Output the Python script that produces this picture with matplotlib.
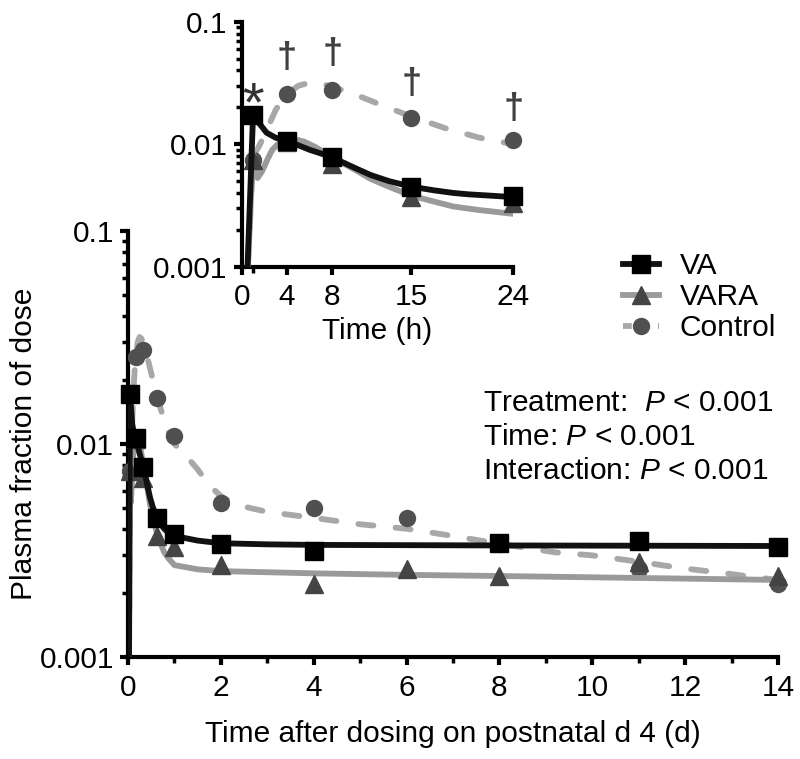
import matplotlib
matplotlib.use("Agg")
import matplotlib.pyplot as plt
import numpy as np
from matplotlib.ticker import LogLocator, FixedLocator, NullFormatter, FixedFormatter, MultipleLocator
from matplotlib.lines import Line2D

plt.rcParams['font.family'] = ['Liberation Sans', 'DejaVu Sans']
plt.rcParams['mathtext.fontset'] = 'custom'
plt.rcParams['mathtext.rm'] = 'Liberation Sans'
plt.rcParams['mathtext.it'] = 'Liberation Sans:italic'

FS = 21.5

# ---------------- data (time in days) ----------------
va_t = [1/24, 4/24, 8/24, 15/24, 1, 2, 4, 8, 11, 14]
va_y = [0.0172, 0.0107, 0.0078, 0.0045, 0.0038, 0.0034, 0.00315, 0.00344, 0.0035, 0.00328]

vara_t = [1/24, 4/24, 8/24, 15/24, 1, 2, 4, 6, 8, 11, 14]
vara_y = [0.0075, 0.0105, 0.0069, 0.0037, 0.0033, 0.0027, 0.0022, 0.0026, 0.0024, 0.0028, 0.0024]

ctrl_t = [1/24, 4/24, 8/24, 15/24, 1, 2, 4, 6, 8, 11, 14]
ctrl_y = [0.0075, 0.0256, 0.0277, 0.0165, 0.0109, 0.0053, 0.0050, 0.0045, 0.0034, 0.0026, 0.0022]

# fitted curves: first day in hours, then in days
va_fit_h = [0.4, 1, 2.2, 3, 4, 5, 6, 7, 8, 10, 11.4, 13, 15, 17, 18.7, 20, 22, 24]
va_fit_hy = [0.0005, 0.0172, 0.0124, 0.0113, 0.0106, 0.0098, 0.0090, 0.0084, 0.0078, 0.0064,
             0.0056, 0.0050, 0.0045, 0.0042, 0.0040, 0.0039, 0.0038, 0.0037]
va_fit_d = [1.5, 2, 3, 4, 6, 8, 11, 14]
va_fit_dy = [0.00352, 0.00342, 0.00338, 0.00336, 0.00335, 0.00334, 0.00333, 0.00332]

vara_fit_h = [0.4, 1, 1.4, 1.8, 2.3, 2.7, 3.2, 4, 5, 5.5, 6.5, 8, 10, 11.4, 13, 15, 17, 18.7, 21, 24]
vara_fit_hy = [0.0005, 0.0085, 0.0053, 0.0060, 0.0076, 0.0090, 0.0100, 0.0108, 0.0108, 0.0105,
               0.0095, 0.0078, 0.0062, 0.0052, 0.0045, 0.0038, 0.0034, 0.0031, 0.0029, 0.0027]
vara_fit_d = [1.5, 2, 3, 4, 6, 8, 11, 14]
vara_fit_dy = [0.00258, 0.00253, 0.0025, 0.00247, 0.00243, 0.0024, 0.00235, 0.0023]

ctrl_fit_h = [0.4, 1, 1.5, 2, 2.5, 3, 3.5, 4, 5, 6, 7, 8, 10, 12, 15, 18, 21, 24]
ctrl_fit_hy = [0.0005, 0.0080, 0.0095, 0.0118, 0.0150, 0.0190, 0.0225, 0.0255, 0.0300, 0.0318,
               0.0312, 0.0295, 0.0255, 0.0215, 0.0168, 0.0135, 0.0113, 0.0100]
ctrl_fit_d = [1.25, 1.5, 1.78, 2, 2.3, 3, 4, 5, 6, 7, 8, 9.2, 10, 11, 12, 12.7, 13.3, 14]
ctrl_fit_dy = [0.0088, 0.0076, 0.0063, 0.0057, 0.0052, 0.0048, 0.0045, 0.0042, 0.0040, 0.0037,
               0.0034, 0.0031, 0.0030, 0.0028, 0.0026, 0.0025, 0.0024, 0.0023]

labels = ['VA', 'VARA', 'Control']
xticks_main = [0, 2, 4, 6, 8, 10, 12, 14]
xticks_inset = [0, 4, 8, 15, 24]
yticks = [0.001, 0.01, 0.1]
ytick_labels = ['0.001', '0.01', '0.1']
stats = [r'Treatment:  $\mathit{P}$ < 0.001', r'Time: $\mathit{P}$ < 0.001',
         r'Interaction: $\mathit{P}$ < 0.001']
sig_star_t = [1]
sig_star_y = [0.0205]
sig_dag_t = [4, 8, 15, 24]
sig_dag_y = [0.0504, 0.0543, 0.031, 0.0193]

# ---------------- styles ----------------
C_VA = '#111111'
C_VARA_L = '#9a9a9a'
C_VARA_M = '#444444'
C_CT_L = '#a8a8a8'
C_CT_M = '#505050'
LW = 4.2

W, H = 800, 759
fig = plt.figure(figsize=(W / 100, H / 100), dpi=100)

def px(l, b, r, t):
    return [l / W, 1 - b / H, (r - l) / W, (b - t) / H]

ax = fig.add_axes(px(128, 657, 778, 231))
ins = fig.add_axes(px(241.7, 266.7, 513.3, 21.7))

def draw(a, scale, tmax):
    def sel(t, y):
        t = np.asarray(t) * scale
        y = np.asarray(y)
        m = t <= tmax + 1e-9
        return t[m], y[m]
    cf_t = np.concatenate([np.asarray(ctrl_fit_h) / 24, ctrl_fit_d])
    cf_y = np.concatenate([ctrl_fit_hy, ctrl_fit_dy])
    rf_t = np.concatenate([np.asarray(vara_fit_h) / 24, vara_fit_d])
    rf_y = np.concatenate([vara_fit_hy, vara_fit_dy])
    vf_t = np.concatenate([np.asarray(va_fit_h) / 24, va_fit_d])
    vf_y = np.concatenate([va_fit_hy, va_fit_dy])

    t, y = sel(cf_t, cf_y)
    a.plot(t, y, color=C_CT_L, lw=LW, ls=(0, (2.6, 3.8)), dash_capstyle='round', zorder=2)
    t, y = sel(ctrl_t, ctrl_y)
    a.plot(t, y, 'o', color=C_CT_M, ms=11.5, mec=C_CT_M, zorder=3, clip_on=False)

    t, y = sel(rf_t, rf_y)
    a.plot(t, y, color=C_VARA_L, lw=LW, solid_capstyle='butt', zorder=4)
    t, y = sel(vara_t, vara_y)
    a.plot(t, y, '^', color=C_VARA_M, ms=13, mec=C_VARA_M, zorder=5, clip_on=False)

    t, y = sel(vf_t, vf_y)
    a.plot(t, y, color=C_VA, lw=LW, solid_capstyle='butt', zorder=6)
    t, y = sel(va_t, va_y)
    a.plot(t, y, 's', color='black', ms=12.5, mec='black', zorder=7, clip_on=False)

def style(a):
    a.set_yscale('log')
    a.set_ylim(0.001, 0.1)
    for s in ['top', 'right']:
        a.spines[s].set_visible(False)
    for s in ['left', 'bottom']:
        a.spines[s].set_linewidth(3)
        a.spines[s].set_color('black')
    a.yaxis.set_major_locator(FixedLocator(yticks))
    a.yaxis.set_major_formatter(FixedFormatter(ytick_labels))
    a.yaxis.set_minor_locator(LogLocator(base=10, subs=np.arange(2, 10)))
    a.yaxis.set_minor_formatter(NullFormatter())
    a.tick_params(which='major', length=6, width=3, labelsize=FS, direction='out', pad=4)
    a.tick_params(which='minor', length=4, width=2.5, direction='out')
    a.tick_params(axis='x', which='major', pad=6)
    a.patch.set_alpha(0)

# main
draw(ax, 1.0, 14)
style(ax)
ax.set_xlim(0, 14)
ax.xaxis.set_major_locator(FixedLocator(xticks_main))
ax.xaxis.set_minor_locator(MultipleLocator(1))
ax.set_xlabel('Time after dosing on postnatal d 4 (d)', fontsize=FS, labelpad=13)
ax.set_ylabel('Plasma fraction of dose', fontsize=FS, labelpad=1)

# inset (hours)
draw(ins, 24.0, 24)
style(ins)
ins.set_xlim(0, 24)
ins.xaxis.set_major_locator(FixedLocator(xticks_inset))
ins.xaxis.set_minor_locator(FixedLocator([1]))
ins.set_xlabel('Time (h)', fontsize=FS, labelpad=4)

for tt, yy in zip(sig_star_t, sig_star_y):
    ins.text(tt, yy, '*', fontsize=40, color='#333333', ha='center', va='center', zorder=10)
for tt, yy in zip(sig_dag_t, sig_dag_y):
    ins.text(tt, yy, '\u2020', fontsize=26, fontweight='bold', color='#404040',
             ha='center', va='center', zorder=10)

# legend
handles = [
    Line2D([], [], color=C_VA, lw=LW, marker='s', ms=12.5, mfc='black', mec='black'),
    Line2D([], [], color=C_VARA_L, lw=LW, marker='^', ms=13, mfc=C_VARA_M, mec=C_VARA_M),
    Line2D([], [], color=C_CT_L, lw=LW, ls=(0, (1.5, 1.5)), marker='o', ms=11.5, mfc=C_CT_M, mec=C_CT_M),
]
fig.legend(handles, labels, loc='upper left', bbox_to_anchor=(623 / W, 1 - 252 / H),
           frameon=False, fontsize=FS, handlelength=1.2, handletextpad=0.7,
           labelspacing=0.1, borderpad=0, borderaxespad=0, numpoints=1)

for i, s in enumerate(stats):
    fig.text(483 / W, 1 - (403 + 34 * i) / H, s, fontsize=FS, ha='left', va='center')

fig.savefig('out.png', dpi=100)
